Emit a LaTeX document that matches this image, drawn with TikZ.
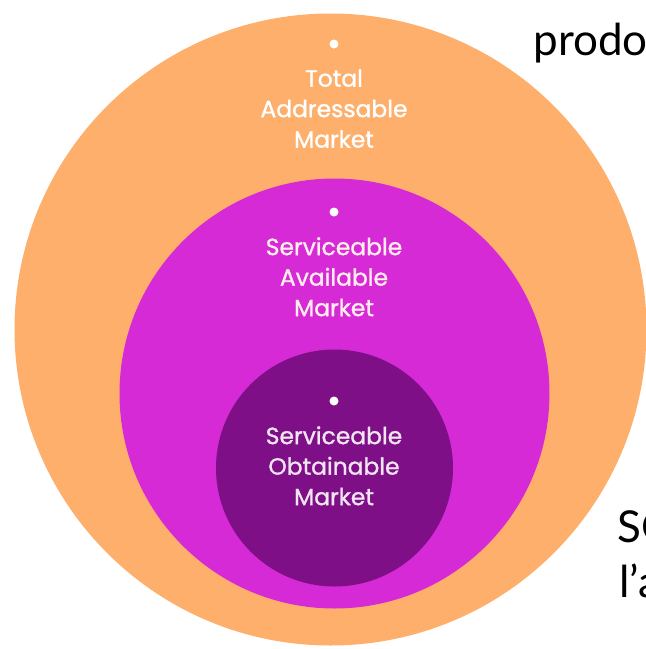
\documentclass[tikz,border=0pt]{standalone}
\usepackage{fontspec}
\usepackage{tikz}
\usetikzlibrary{positioning}
\newfontfamily\marketfont{Poppins}[FakeBold=1.2]
\newfontfamily\notefont{Lato}
\definecolor{tamorange}{HTML}{FDAF6B}
\definecolor{sampink}{HTML}{D62AD6}
\definecolor{somplum}{HTML}{7E0F87}

\begin{document}
\begin{tikzpicture}[x=0.5pt, y=-0.5pt,
  ring/.style={circle, inner sep=0pt, draw=none},
  dot/.style={circle, fill=white, inner sep=0pt, minimum size=4.5pt},
  marketname/.style={align=center, inner sep=0pt,
    font=\marketfont\fontsize{11.7}{15.25}\selectfont},
  note/.style={anchor=base west, inner sep=0pt,
    font=\notefont\fontsize{22}{27.5}\selectfont}]

  \useasboundingbox (0,0) rectangle (646,649);
  \clip (0,0) rectangle (646,649);

  % Circles
  \node[ring, fill=tamorange, minimum size=316pt] (tam) at (330.5,329.5) {};
  \node[ring, fill=sampink, minimum size=215pt] (sam) at (334.5,393.5) {};
  \node[ring, fill=somplum, minimum size=118.5pt] (som) at (334.5,468) {};

  % Labels
  \node[dot] (tamdot) at (334,44) {};
  \node[marketname, text=white, below=10pt of tamdot] (tamtext)
    {Total\\Addressable\\Market};

  \node[dot] (samdot) at (334,212) {};
  \node[marketname, text=pink!30!white, below=10pt of samdot] (samtext)
    {Serviceable\\Available\\Market};

  \node[dot] (somdot) at (334,401) {};
  \node[marketname, text=violet!10!white, below=10pt of somdot] (somtext)
    {Serviceable\\Obtainable\\Market};

  % Cut-off text
  \node[note] (prodo) at (533,55) {prodo};
  \node[note] (so) at (617,542) {SO};
  \node[note] (la) at (619,597) {l’a};

\end{tikzpicture}
\end{document}
